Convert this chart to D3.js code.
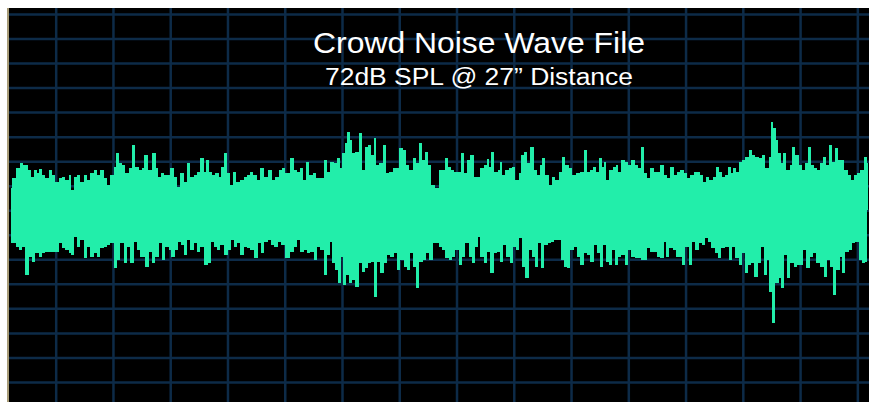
<!DOCTYPE html>
<html>
<head>
<meta charset="utf-8">
<style>
  body { margin: 0; background: #fff; }
  svg { display: block; }
  .grid line { stroke: #0d2b48; stroke-width: 2.5px; }
  .grid path { display: none; }
  .title { font-family: "Liberation Sans", Arial, sans-serif; fill: #fff; }
</style>
</head>
<body>
<div id="chart"></div>
<script src="https://cdn.jsdelivr.net/npm/d3@7"></script>
<script>
var title = 'Crowd Noise Wave File'
var subtitle = '72dB SPL @ 27\u201d Distance'

// upper envelope: time (ms) and positive peak
var upperTime = [
  1,3,8,11,15,20,22,25,28,30,33,37,40,43,47,50,53,57,60,62,65,68,72,75,78,82,85,88,92,95,98,102,105,107,110,113,117,120,123,127,130,133,
  135,140,144,147,149,152,155,158,162,165,168,172,175,178,182,185,188,192,195,197,200,203,207,210,212,215,218,221,224,228,232,235,238,241,245,248,252,256,260,263,267,270,273,277,
  282,285,288,292,294,297,301,304,307,312,315,318,322,325,328,331,333,336,338,341,343,347,350,353,356,359,362,365,367,371,374,377,381,384,387,391,394,397,401,404,407,410,413,416,419,423,
  427,430,433,436,439,442,446,449,452,455,458,462,465,468,472,475,478,480,482,486,489,491,493,497,500,503,507,510,512,515,518,522,525,528,531,533,537,540,543,547,550,553,557,560,563,568,
  572,575,578,582,584,587,590,593,595,597,601,604,607,609,613,616,619,623,626,629,632,635,638,642,645,648,652,655,658,662,665,668,672,675,678,682,685,688,692,694,697,701,704,707,710,713,
  717,719,722,724,728,730,733,737,740,743,747,750,753,757,760,762,764,767,769,772,774,778,781,783,787,790,793,797,799,802,805,808,812,814,818,820,823,826,829,832,836,839,842,845,848,852,855,858
]
var upperPeak = [
  22,32,42,47,45,40,33,40,37,41,35,32,40,35,28,32,33,30,35,20,33,35,28,35,30,37,40,35,40,32,25,35,43,57,47,45,37,42,65,43,40,42,
  55,40,57,42,33,37,35,35,42,33,23,37,28,47,33,35,38,52,38,50,38,35,37,33,43,57,37,25,38,28,30,33,35,38,35,30,42,33,40,30,33,40,42,37,
  52,40,38,42,30,48,35,37,32,32,50,38,48,47,52,42,57,67,78,70,57,58,77,40,63,65,55,72,45,47,65,37,38,42,42,62,60,45,40,52,47,67,50,58,45,25,
  22,40,40,52,43,40,38,38,57,37,50,55,33,33,42,45,51,43,58,38,40,48,35,40,42,43,30,37,55,58,47,63,40,35,45,52,35,25,33,30,38,53,45,42,35,37,
  38,60,38,40,43,38,52,43,48,30,40,43,45,38,50,48,45,50,45,42,63,37,32,42,38,38,45,35,32,43,35,38,40,37,32,35,38,38,35,28,33,30,33,43,38,33,
  35,43,37,42,38,48,50,53,60,55,53,52,55,42,53,88,82,70,57,47,57,40,45,63,55,45,40,47,63,45,42,40,47,53,45,65,48,62,50,50,40,35,30,35,37,40,53,47
]

// lower envelope: time (ms) and negative peak
var lowerTime = [
  1,5,7,10,13,17,20,23,27,30,33,37,40,43,47,50,53,57,60,62,65,68,72,75,78,82,85,88,92,95,98,102,105,108,112,115,118,122,125,128,132,
  137,140,143,147,150,153,157,160,162,167,169,172,175,178,182,185,188,192,196,199,202,205,208,212,216,219,222,225,228,232,235,238,242,246,249,252,256,259,262,266,269,272,277,
  282,285,288,292,295,298,302,305,308,312,315,318,321,323,327,329,332,334,337,340,343,347,350,353,356,359,362,365,368,372,375,378,382,385,388,392,395,398,402,404,407,411,414,417,421,424,
  427,430,433,437,440,443,447,450,453,457,460,463,467,468,472,475,478,482,485,488,492,494,498,501,504,508,510,513,517,520,523,527,529,532,536,539,542,546,549,552,555,558,562,565,568,
  572,575,578,582,585,588,592,594,597,600,603,606,609,613,616,619,623,626,629,633,636,638,642,645,648,652,655,657,661,664,667,671,673,677,680,683,687,690,693,696,699,703,706,709,713,
  717,720,723,727,730,733,736,739,742,746,749,752,755,758,760,763,767,770,772,776,778,782,785,788,792,794,798,801,804,808,812,815,818,822,824,828,831,833,837,840,843,847,850,853,857
]
var lowerPeak = [
  -33,-33,-37,-40,-37,-65,-47,-52,-43,-47,-43,-42,-42,-42,-42,-33,-38,-40,-43,-45,-27,-37,-30,-48,-37,-47,-43,-47,-38,-37,-35,-33,-58,-50,-33,-53,-37,-53,-32,-40,-47,
  -57,-42,-53,-47,-33,-50,-37,-40,-47,-40,-32,-35,-45,-30,-40,-33,-42,-37,-55,-53,-32,-37,-40,-35,-45,-40,-30,-37,-33,-45,-37,-38,-40,-48,-33,-43,-32,-30,-35,-37,-32,-35,-48,
  -42,-37,-30,-42,-40,-43,-42,-50,-37,-40,-65,-45,-32,-53,-60,-73,-47,-75,-65,-73,-70,-77,-53,-62,-58,-53,-52,-87,-52,-63,-53,-45,-47,-43,-60,-50,-57,-60,-43,-57,-78,-52,-50,-43,-50,-33,
  -33,-37,-40,-48,-50,-47,-40,-55,-47,-33,-47,-53,-37,-27,-47,-53,-42,-63,-43,-42,-52,-35,-47,-53,-37,-40,-28,-57,-68,-40,-47,-57,-33,-58,-35,-33,-32,-30,-30,-50,-57,-58,-40,-37,-47,
  -55,-43,-45,-52,-35,-43,-57,-35,-52,-55,-40,-55,-47,-45,-55,-40,-47,-48,-48,-50,-50,-38,-42,-42,-47,-48,-32,-47,-38,-40,-47,-47,-55,-37,-55,-32,-40,-33,-35,-28,-32,-38,-43,-48,-38,
  -37,-50,-37,-48,-55,-43,-63,-55,-53,-67,-53,-37,-65,-50,-82,-113,-73,-68,-78,-45,-68,-53,-57,-55,-55,-40,-58,-47,-43,-53,-57,-67,-50,-57,-85,-60,-47,-63,-42,-40,-33,-32,-50,-53,-52
]

var width = 869, height = 402

var svg = d3.select('#chart').append('svg')
  .attr('width', width)
  .attr('height', height)

// scope panel
svg.append('rect')
  .attr('x', 9).attr('y', 8)
  .attr('width', width - 9).attr('height', height - 8)
  .attr('fill', '#000')
svg.append('line')
  .attr('x1', 8).attr('x2', 8).attr('y1', 8).attr('y2', height)
  .attr('stroke', '#a89c78').attr('stroke-width', 2)

var x = d3.scaleLinear().domain([0, 859]).range([10, 869])
var y = d3.scaleLinear().domain([-200, 200]).range([410, 10])

// graticule, one division = 57.26 ms across, 24.53 units up
var gridX = d3.range(15).map(function(k){ return 45.7 + k * 57.26 })
var gridY = d3.range(16).map(function(k){ return 196 - k * 24.53 })

svg.append('g').attr('class', 'grid')
  .attr('transform', 'translate(0,' + height + ')')
  .call(d3.axisBottom(x).tickValues(gridX).tickSize(-(height - 8)).tickFormat(''))
svg.append('g').attr('class', 'grid')
  .attr('transform', 'translate(' + width + ',0)')
  .call(d3.axisLeft(y).tickValues(gridY).tickSize(width - 9).tickFormat(''))

var upper = upperTime.map(function(t, i){ return {t: t, v: upperPeak[i]} })
var lower = lowerTime.map(function(t, i){ return {t: t, v: lowerPeak[i]} })

var area = d3.area()
  .curve(d3.curveStep)
  .x(function(d){ return x(d.t) })
  .y0(y(0))
  .y1(function(d){ return y(d.v) })

var wave = svg.append('g')
  .attr('fill', '#22eeaa')
  .attr('shape-rendering', 'crispEdges')
wave.append('path').attr('d', area(upper))
wave.append('path').attr('d', area(lower))

svg.append('text').attr('class', 'title')
  .attr('x', 479).attr('y', 53)
  .attr('text-anchor', 'middle')
  .attr('font-size', 30)
  .attr('textLength', 332).attr('lengthAdjust', 'spacingAndGlyphs')
  .text(title)
svg.append('text').attr('class', 'title')
  .attr('x', 479).attr('y', 85)
  .attr('text-anchor', 'middle')
  .attr('font-size', 23)
  .attr('textLength', 308).attr('lengthAdjust', 'spacingAndGlyphs')
  .text(subtitle)
</script>
</body>
</html>
